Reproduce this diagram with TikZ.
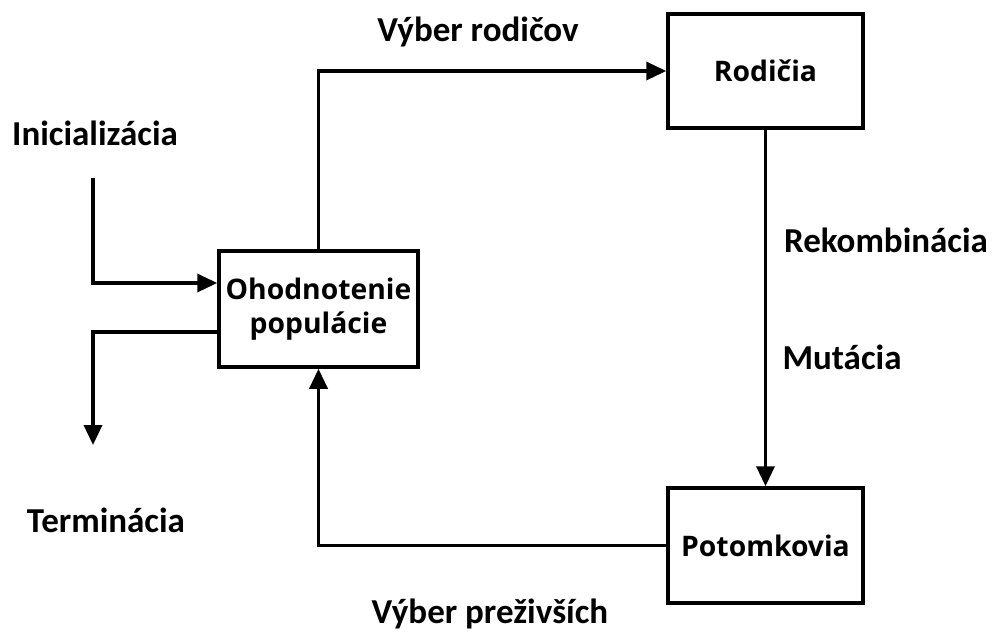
\documentclass[tikz,border=0pt]{standalone}
\usepackage{fontspec}
\setmainfont{Open Sans}
\newfontfamily\labfont{Carlito}
\usetikzlibrary{arrows.meta}
\begin{document}
\begin{tikzpicture}[x=1pt,y=-1pt,
  box/.style={draw,line width=3.5pt,inner sep=0pt,align=center,
    font=\fontsize{28.3}{34}\selectfont\bfseries},
  lab/.style={inner sep=0pt,font=\labfont\fontsize{35}{38}\selectfont\bfseries},
  conn/.style={line width=3.5pt,-{Triangle[length=20pt,width=18pt]}}]
\useasboundingbox (0,0) rectangle (994,633);
% boxes
\node[box,minimum width=195pt,minimum height=114pt] (rod) at (765.5,71) {Rodičia};
\node[box,minimum width=199pt,minimum height=116pt] (ohod) at (318.5,309) {Ohodnotenie\\populácie};
\node[box,minimum width=195pt,minimum height=115pt] (pot) at (765.5,545.5) {Potomkovia};
% labels
\node[lab] (init) at (95,133) {Inicializácia};
\node[lab] (term) at (106,520) {Terminácia};
\node[lab] (vrod) at (478,32) {Výber rodičov};
\node[lab] (rek) at (886,240) {Rekombinácia};
\node[lab] (mut) at (842,357) {Mutácia};
\node[lab] (vprez) at (490,614) {Výber preživších};
% free ends
\coordinate (i0) at (93,178);
\coordinate (t0) at (93,445);
% connectors
\draw[conn] (i0) |- ([yshift=26pt]ohod.west);
\draw[conn] ([yshift=-23pt]ohod.west) -| (t0);
\draw[conn] (ohod.north) |- (rod.west);
\draw[conn] (rod.south) -- (pot.north);
\draw[conn] (pot.west) -| (ohod.south);
\end{tikzpicture}
\end{document}
